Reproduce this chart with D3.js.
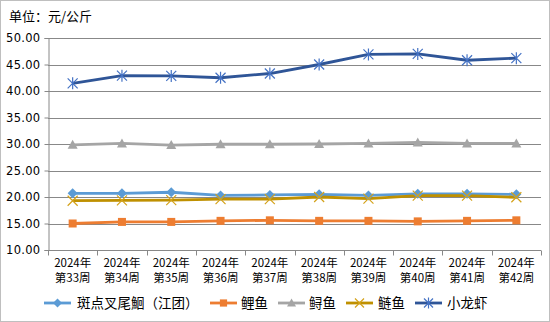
<!DOCTYPE html>
<html><head><meta charset="utf-8">
<script src="https://cdn.jsdelivr.net/npm/d3@7"></script>
<style>
html,body{margin:0;padding:0;background:#fff;}
svg{display:block;font-family:"Noto Sans CJK SC","DejaVu Sans",sans-serif;}
</style></head>
<body><svg id="chart" width="550" height="322"></svg>
<script>
const weeks = ["第33周","第34周","第35周","第36周","第37周","第38周","第39周","第40周","第41周","第42周"];
const yearLabel = "2024年";
const catfish = [20.7, 20.7, 20.9, 20.3, 20.4, 20.5, 20.3, 20.6, 20.6, 20.5];
const carp = [15.0, 15.3, 15.3, 15.5, 15.6, 15.5, 15.5, 15.4, 15.5, 15.6];
const sturgeon = [29.85, 30.1, 29.8, 29.95, 29.95, 30.0, 30.1, 30.3, 30.1, 30.1];
const silverCarp = [19.3, 19.35, 19.4, 19.6, 19.6, 20.0, 19.7, 20.25, 20.25, 19.95];
const crayfish = [41.45, 42.9, 42.85, 42.5, 43.3, 45.0, 46.9, 47.0, 45.8, 46.2];
const yTicks = [10, 15, 20, 25, 30, 35, 40, 45, 50];

const series = [
  {name: "斑点叉尾鮰（江团）", values: catfish, color: "#5B9BD5", mark: "#5B9BD5", shape: "diamond"},
  {name: "鲤鱼", values: carp, color: "#ED7D31", mark: "#ED7D31", shape: "square"},
  {name: "鲟鱼", values: sturgeon, color: "#A5A5A5", mark: "#A5A5A5", shape: "triangle"},
  {name: "鲢鱼", values: silverCarp, color: "#BF9000", mark: "#D4A21A", shape: "cross"},
  {name: "小龙虾", values: crayfish, color: "#2F5597", mark: "#4472C4", shape: "star"}
];

const svg = d3.select("#chart");
const W = 550, H = 322;
const m = {left: 48, right: 9, top: 38, bottom: 72};

svg.append("rect").attr("x",0.5).attr("y",0.5).attr("width",W-1).attr("height",H-1)
  .attr("fill","#fff").attr("stroke","#BFBFBF");

const x = d3.scaleBand().domain(weeks).range([m.left, W - m.right]);
const y = d3.scaleLinear().domain([10, 50]).range([H - m.bottom, m.top]);

// horizontal grid
svg.append("g").selectAll("line").data(yTicks).join("line")
  .attr("x1", m.left).attr("x2", W - m.right)
  .attr("y1", d => Math.round(y(d)) + 0.5).attr("y2", d => Math.round(y(d)) + 0.5)
  .attr("stroke", "#888").attr("stroke-width", 1);

// y axis
const yAxis = svg.append("g").attr("transform", `translate(${m.left + 0.5},0)`)
  .call(d3.axisLeft(y).tickValues(yTicks).tickFormat(d3.format(".2f")).tickSize(4).tickPadding(4));
yAxis.select(".domain").attr("stroke", "#888");
yAxis.selectAll(".tick line").attr("stroke", "#888");
yAxis.selectAll(".tick text").attr("fill", "#000").attr("font-size", 11.5)
  .attr("font-family", "'DejaVu Sans', sans-serif").attr("letter-spacing", 0.3);

// x axis with ticks between categories
const xg = svg.append("g").attr("transform", `translate(0,${Math.round(y(10)) + 0.5})`);
xg.append("line").attr("x1", m.left).attr("x2", W - m.right).attr("stroke", "#888");
const bounds = weeks.map(w => x(w)).concat([W - m.right]);
xg.selectAll("line.tk").data(bounds).join("line").attr("class","tk")
  .attr("x1", d => Math.round(d) + 0.5).attr("x2", d => Math.round(d) + 0.5)
  .attr("y1", 0).attr("y2", 5).attr("stroke", "#888");
const xl = xg.selectAll("text.lb").data(weeks).join("text").attr("class","lb")
  .attr("x", d => x(d) + x.bandwidth()/2).attr("text-anchor", "middle")
  .attr("font-size", 11.5).attr("fill", "#000");
xl.append("tspan").attr("x", d => x(d) + x.bandwidth()/2).attr("y", 16).text(yearLabel);
xl.append("tspan").attr("x", d => x(d) + x.bandwidth()/2).attr("y", 31).text(d => d);

// unit label
svg.append("text").attr("x", 9).attr("y", 21).attr("font-size", 13).attr("fill", "#000")
  .text("单位：元/公斤");

function drawMarker(g, shape, color, s) {
  if (shape === "diamond") {
    g.append("path").attr("d", `M0,${-s}L${s},0L0,${s}L${-s},0Z`).attr("fill", color);
  } else if (shape === "square") {
    g.append("rect").attr("x", -s*0.8).attr("y", -s*0.8).attr("width", s*1.6).attr("height", s*1.6).attr("fill", color);
  } else if (shape === "triangle") {
    g.append("path").attr("d", `M0,${-s}L${s},${s*0.8}L${-s},${s*0.8}Z`).attr("fill", color);
  } else if (shape === "cross") {
    g.append("path").attr("d", `M${-s},${-s}L${s},${s}M${-s},${s}L${s},${-s}`).attr("stroke", color).attr("stroke-width", 1.2);
  } else if (shape === "star") {
    g.append("path").attr("d", `M${-s},${-s}L${s},${s}M${-s},${s}L${s},${-s}M0,${-s*1.2}L0,${s*1.2}`).attr("stroke", color).attr("stroke-width", 1.2);
  }
}

const line = d3.line().x((d, i) => x(weeks[i]) + x.bandwidth()/2).y(d => y(d));
const plot = svg.append("g");
series.forEach(s => {
  plot.append("path").datum(s.values).attr("d", line).attr("fill", "none")
    .attr("stroke", s.color).attr("stroke-width", 2.8).attr("stroke-linejoin", "round");
});
series.forEach(s => {
  s.values.forEach((v, i) => {
    const g = plot.append("g").attr("transform", `translate(${x(weeks[i]) + x.bandwidth()/2},${y(v)})`);
    drawMarker(g, s.shape, s.mark, 5);
  });
});

// legend
const legendPos = [[44, 77], [210, 241], [278, 309], [346, 378], [415, 447]];
const ly = 303;
series.forEach((s, i) => {
  const [lx, tx] = legendPos[i];
  const g = svg.append("g");
  g.append("line").attr("x1", lx).attr("x2", lx + 27).attr("y1", ly).attr("y2", ly)
    .attr("stroke", s.color).attr("stroke-width", 2.8);
  const mg = g.append("g").attr("transform", `translate(${lx + 13.5},${ly})`);
  drawMarker(mg, s.shape, s.mark, 4.5);
  g.append("text").attr("x", tx).attr("y", ly + 5).attr("font-size", 13.5).attr("fill", "#000").text(s.name);
});
</script></body></html>
